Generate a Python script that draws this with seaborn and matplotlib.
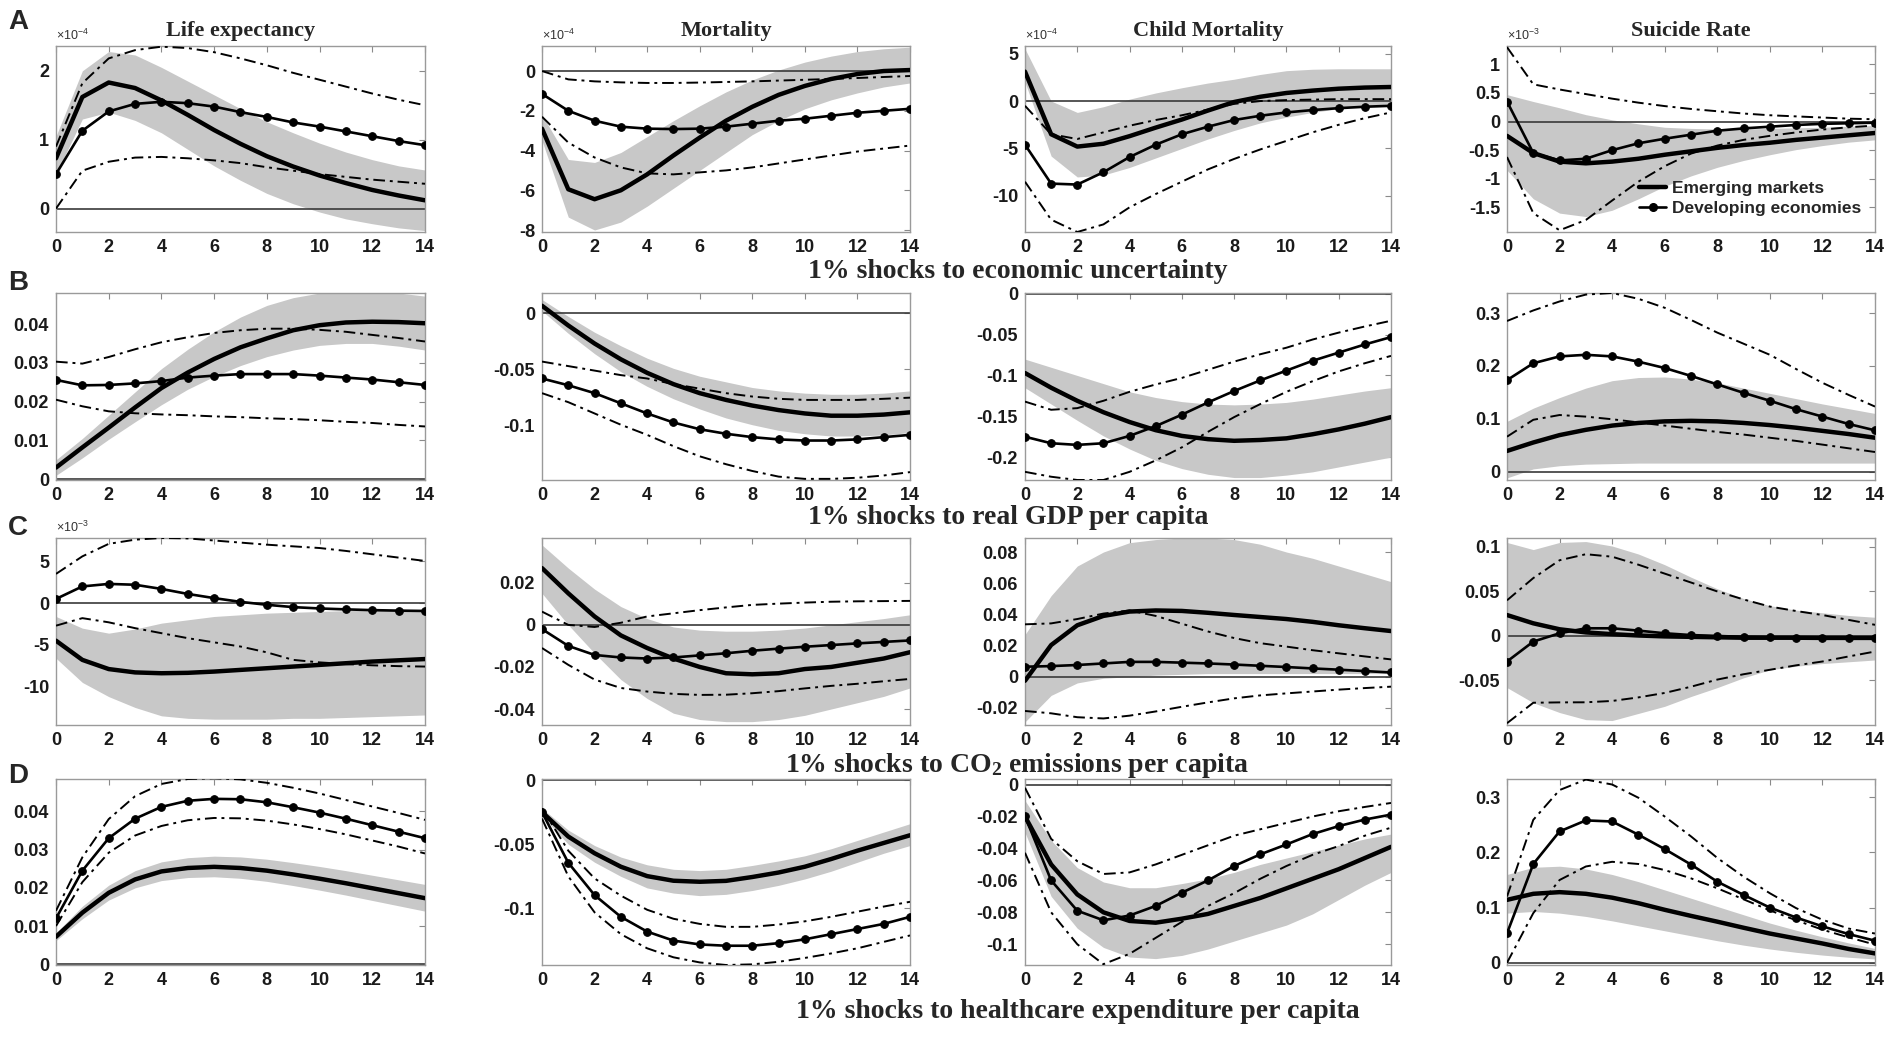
import matplotlib
matplotlib.use("Agg")
import matplotlib.pyplot as plt
from matplotlib.lines import Line2D
import seaborn as sns

horizon = list(range(15))

col_titles = ["Life expectancy", "Mortality", "Child Mortality", "Suicide Rate"]
row_letters = ["A", "B", "C", "D"]
shock_titles = ["1% shocks to economic uncertainty",
                "1% shocks to real GDP per capita",
                "1% shocks to CO$_2$ emissions per capita",
                "1% shocks to healthcare expenditure per capita"]
legend_labels = ["Emerging markets", "Developing economies"]

# A: economic uncertainty (A1-A3 in 1e-4, A4 in 1e-3)
a1_em = [0.73, 1.62, 1.83, 1.75, 1.57, 1.36, 1.14, 0.94, 0.76, 0.61, 0.48, 0.37, 0.27, 0.19, 0.12]
a1_em_hi = [1.05, 2.0, 2.28, 2.23, 2.05, 1.85, 1.65, 1.45, 1.26, 1.1, 0.95, 0.82, 0.71, 0.62, 0.56]
a1_em_lo = [0.5, 1.3, 1.4, 1.28, 1.1, 0.86, 0.62, 0.41, 0.22, 0.07, -0.05, -0.15, -0.22, -0.28, -0.32]
a1_de = [0.5, 1.13, 1.41, 1.52, 1.55, 1.53, 1.48, 1.4, 1.33, 1.25, 1.19, 1.12, 1.05, 0.98, 0.92]
a1_de_hi = [0.9, 1.82, 2.18, 2.3, 2.35, 2.33, 2.27, 2.18, 2.08, 1.97, 1.87, 1.77, 1.67, 1.58, 1.5]
a1_de_lo = [0.0, 0.55, 0.68, 0.74, 0.75, 0.73, 0.7, 0.66, 0.6, 0.55, 0.5, 0.46, 0.42, 0.39, 0.36]

a2_em = [-2.9, -5.95, -6.45, -6.0, -5.2, -4.25, -3.35, -2.5, -1.8, -1.2, -0.75, -0.4, -0.15, 0.0, 0.05]
a2_em_hi = [-2.2, -4.45, -4.6, -4.1, -3.3, -2.5, -1.75, -1.05, -0.45, 0.05, 0.45, 0.75, 0.98, 1.12, 1.2]
a2_em_lo = [-3.5, -7.35, -8.0, -7.6, -6.8, -5.9, -5.0, -4.1, -3.2, -2.5, -1.9, -1.45, -1.1, -0.8, -0.6]
a2_de = [-1.15, -2.0, -2.5, -2.8, -2.9, -2.92, -2.9, -2.8, -2.65, -2.5, -2.4, -2.25, -2.1, -2.0, -1.9]
a2_de_hi = [0.0, -0.42, -0.52, -0.57, -0.6, -0.6, -0.58, -0.55, -0.52, -0.48, -0.44, -0.4, -0.35, -0.3, -0.25]
a2_de_lo = [-2.3, -3.6, -4.35, -4.85, -5.15, -5.2, -5.1, -5.0, -4.85, -4.65, -4.45, -4.25, -4.05, -3.9, -3.75]

a3_em = [3.1, -3.5, -4.8, -4.5, -3.7, -2.8, -1.95, -1.0, -0.1, 0.45, 0.85, 1.1, 1.3, 1.42, 1.48]
a3_em_hi = [5.5, 0.0, -1.2, -0.6, 0.2, 0.85, 1.4, 1.9, 2.3, 2.8, 3.2, 3.35, 3.4, 3.4, 3.4]
a3_em_lo = [2.0, -5.8, -8.0, -7.8, -7.0, -6.0, -5.0, -4.0, -3.1, -2.3, -1.7, -1.2, -0.8, -0.5, -0.3]
a3_de = [-4.6, -8.7, -8.8, -7.5, -5.9, -4.6, -3.5, -2.7, -2.0, -1.55, -1.2, -0.95, -0.75, -0.6, -0.5]
a3_de_hi = [-0.5, -3.5, -4.0, -3.3, -2.6, -2.0, -1.5, -0.9, -0.3, 0.0, 0.1, 0.15, 0.2, 0.2, 0.2]
a3_de_lo = [-8.5, -12.5, -13.8, -13.0, -11.2, -9.8, -8.5, -7.2, -6.1, -5.1, -4.2, -3.3, -2.5, -1.8, -1.2]

a4_em = [-0.25, -0.55, -0.7, -0.73, -0.7, -0.65, -0.58, -0.52, -0.46, -0.41, -0.37, -0.32, -0.28, -0.24, -0.2]
a4_em_hi = [0.47, 0.35, 0.24, 0.12, 0.03, -0.04, -0.1, -0.12, -0.13, -0.13, -0.12, -0.11, -0.1, -0.08, -0.07]
a4_em_lo = [-0.85, -1.35, -1.6, -1.66, -1.55, -1.35, -1.13, -0.95, -0.8, -0.68, -0.58, -0.49, -0.42, -0.36, -0.32]
a4_de = [0.35, -0.55, -0.68, -0.65, -0.5, -0.38, -0.3, -0.23, -0.16, -0.12, -0.09, -0.06, -0.04, -0.03, -0.02]
a4_de_hi = [1.3, 0.65, 0.56, 0.48, 0.4, 0.33, 0.27, 0.22, 0.18, 0.14, 0.11, 0.09, 0.07, 0.05, 0.04]
a4_de_lo = [-0.62, -1.6, -1.9, -1.72, -1.38, -1.05, -0.78, -0.56, -0.42, -0.32, -0.25, -0.19, -0.14, -0.1, -0.07]

# B: real GDP per capita
b1_em = [0.003, 0.0082, 0.0133, 0.0185, 0.0235, 0.0275, 0.031, 0.034, 0.0363, 0.0384, 0.0397, 0.0404, 0.0406, 0.0405, 0.0402]
b1_em_hi = [0.005, 0.0105, 0.0165, 0.0225, 0.0285, 0.0335, 0.038, 0.0418, 0.0448, 0.0468, 0.048, 0.0485, 0.0485, 0.048, 0.0472]
b1_em_lo = [0.001, 0.0055, 0.0103, 0.0148, 0.0192, 0.0232, 0.0265, 0.0293, 0.0316, 0.0333, 0.0345, 0.035, 0.035, 0.0343, 0.0333]
b1_de = [0.0256, 0.0242, 0.0243, 0.0247, 0.0253, 0.0262, 0.0267, 0.0271, 0.0271, 0.0271, 0.0267, 0.0262, 0.0257, 0.025, 0.0243]
b1_de_hi = [0.0303, 0.0298, 0.0315, 0.0335, 0.0353, 0.0366, 0.0377, 0.0384, 0.0388, 0.0388, 0.0385, 0.038, 0.0372, 0.0364, 0.0355]
b1_de_lo = [0.0205, 0.0188, 0.0175, 0.017, 0.0167, 0.0165, 0.0162, 0.016, 0.0157, 0.0155, 0.0152, 0.0148, 0.0145, 0.014, 0.0136]

b2_em = [0.0065, -0.011, -0.027, -0.041, -0.053, -0.063, -0.071, -0.077, -0.082, -0.086, -0.089, -0.091, -0.091, -0.09, -0.088]
b2_em_hi = [0.012, -0.003, -0.017, -0.029, -0.04, -0.049, -0.056, -0.061, -0.066, -0.069, -0.071, -0.072, -0.072, -0.071, -0.069]
b2_em_lo = [0.002, -0.018, -0.036, -0.052, -0.065, -0.076, -0.085, -0.093, -0.099, -0.104, -0.107, -0.109, -0.109, -0.108, -0.106]
b2_de = [-0.058, -0.064, -0.071, -0.08, -0.089, -0.097, -0.103, -0.107, -0.11, -0.112, -0.113, -0.113, -0.112, -0.11, -0.108]
b2_de_hi = [-0.043, -0.047, -0.051, -0.055, -0.058, -0.063, -0.067, -0.071, -0.074, -0.076, -0.077, -0.077, -0.077, -0.076, -0.075]
b2_de_lo = [-0.071, -0.079, -0.089, -0.099, -0.108, -0.118, -0.127, -0.134, -0.14, -0.145, -0.147, -0.147, -0.146, -0.144, -0.141]

b3_em = [-0.097, -0.115, -0.131, -0.145, -0.157, -0.167, -0.174, -0.178, -0.18, -0.179, -0.177, -0.172, -0.166, -0.159, -0.151]
b3_em_hi = [-0.08, -0.09, -0.1, -0.11, -0.12, -0.127, -0.132, -0.135, -0.136, -0.135, -0.133, -0.129, -0.124, -0.119, -0.115]
b3_em_lo = [-0.115, -0.135, -0.155, -0.174, -0.19, -0.204, -0.214, -0.221, -0.225, -0.225, -0.222, -0.218, -0.212, -0.206, -0.2]
b3_de = [-0.175, -0.183, -0.185, -0.183, -0.174, -0.162, -0.148, -0.133, -0.119, -0.106, -0.094, -0.082, -0.072, -0.062, -0.053]
b3_de_hi = [-0.132, -0.142, -0.14, -0.131, -0.12, -0.111, -0.103, -0.093, -0.083, -0.074, -0.066, -0.056, -0.0475, -0.04, -0.033]
b3_de_lo = [-0.218, -0.224, -0.228, -0.228, -0.218, -0.204, -0.188, -0.169, -0.151, -0.135, -0.12, -0.107, -0.095, -0.085, -0.076]

b4_em = [0.039, 0.055, 0.069, 0.079, 0.087, 0.092, 0.095, 0.096, 0.095, 0.092, 0.088, 0.083, 0.077, 0.071, 0.064]
b4_em_hi = [0.095, 0.12, 0.14, 0.158, 0.172, 0.178, 0.179, 0.175, 0.168, 0.158, 0.148, 0.138, 0.128, 0.119, 0.11]
b4_em_lo = [-0.012, 0.005, 0.011, 0.014, 0.015, 0.016, 0.016, 0.016, 0.016, 0.016, 0.016, 0.016, 0.016, 0.016, 0.016]
b4_de = [0.173, 0.205, 0.218, 0.221, 0.218, 0.208, 0.196, 0.181, 0.165, 0.149, 0.134, 0.118, 0.104, 0.09, 0.078]
b4_de_hi = [0.285, 0.305, 0.322, 0.335, 0.338, 0.327, 0.31, 0.287, 0.263, 0.242, 0.221, 0.194, 0.168, 0.145, 0.123]
b4_de_lo = [0.066, 0.098, 0.107, 0.104, 0.099, 0.093, 0.087, 0.081, 0.075, 0.07, 0.064, 0.058, 0.051, 0.044, 0.037]

# C: CO2 emissions per capita (C1 in 1e-3)
c1_em = [-4.5, -6.8, -7.9, -8.3, -8.4, -8.35, -8.2, -8.0, -7.8, -7.6, -7.4, -7.2, -7.0, -6.85, -6.7]
c1_em_hi = [-1.6, -3.0, -3.6, -3.1, -2.4, -2.0, -1.6, -1.4, -1.2, -1.1, -1.0, -0.9, -0.85, -0.8, -0.8]
c1_em_lo = [-6.6, -9.5, -11.2, -12.5, -13.5, -13.8, -13.9, -13.9, -13.9, -13.8, -13.8, -13.7, -13.6, -13.5, -13.4]
c1_de = [0.5, 2.0, 2.3, 2.2, 1.7, 1.1, 0.6, 0.15, -0.2, -0.48, -0.64, -0.75, -0.84, -0.9, -0.94]
c1_de_hi = [3.5, 5.6, 7.1, 7.6, 7.8, 7.75, 7.5, 7.25, 7.0, 6.8, 6.6, 6.25, 5.85, 5.45, 5.05]
c1_de_lo = [-2.7, -1.8, -2.3, -3.0, -3.6, -4.2, -4.7, -5.2, -5.9, -6.8, -7.1, -7.3, -7.45, -7.55, -7.6]

c2_em = [0.027, 0.015, 0.004, -0.005, -0.011, -0.016, -0.02, -0.023, -0.0235, -0.023, -0.021, -0.02, -0.018, -0.016, -0.013]
c2_em_hi = [0.038, 0.027, 0.017, 0.0087, 0.003, -0.001, -0.0025, -0.003, -0.003, -0.0025, -0.0015, 0.0, 0.0015, 0.003, 0.0048]
c2_em_lo = [0.015, 0.0, -0.0135, -0.026, -0.035, -0.042, -0.045, -0.046, -0.046, -0.045, -0.043, -0.04, -0.037, -0.034, -0.03]
c2_de = [-0.002, -0.01, -0.0143, -0.0155, -0.016, -0.0155, -0.0145, -0.0135, -0.0123, -0.0113, -0.0104, -0.0096, -0.0088, -0.0081, -0.0074]
c2_de_hi = [0.0063, 0.0, -0.001, 0.001, 0.004, 0.0055, 0.007, 0.0083, 0.0095, 0.0101, 0.0106, 0.011, 0.0112, 0.0113, 0.0114]
c2_de_lo = [-0.011, -0.019, -0.026, -0.03, -0.0317, -0.0328, -0.0333, -0.0332, -0.0325, -0.0315, -0.0302, -0.029, -0.028, -0.0268, -0.0257]

c3_em = [-0.0026, 0.0203, 0.033, 0.039, 0.0418, 0.0425, 0.0422, 0.041, 0.0396, 0.0383, 0.037, 0.0352, 0.033, 0.0311, 0.0293]
c3_em_hi = [0.027, 0.052, 0.071, 0.08, 0.086, 0.088, 0.089, 0.089, 0.088, 0.085, 0.08, 0.076, 0.071, 0.066, 0.061]
c3_em_lo = [-0.029, -0.012, -0.004, -0.001, 0.0, 0.001, 0.0015, 0.002, 0.002, 0.002, 0.002, 0.002, 0.002, 0.002, 0.002]
c3_de = [0.0064, 0.0068, 0.0075, 0.0085, 0.0095, 0.0095, 0.009, 0.0085, 0.0078, 0.007, 0.0062, 0.0053, 0.0045, 0.0036, 0.0027]
c3_de_hi = [0.0336, 0.0342, 0.037, 0.0405, 0.0425, 0.039, 0.034, 0.029, 0.0248, 0.0215, 0.0193, 0.017, 0.015, 0.013, 0.0111]
c3_de_lo = [-0.022, -0.0235, -0.026, -0.0268, -0.025, -0.0223, -0.0193, -0.0165, -0.0139, -0.012, -0.0107, -0.0095, -0.0083, -0.0073, -0.0064]

c4_em = [0.0235, 0.0142, 0.0075, 0.004, 0.002, 0.0005, -0.0005, -0.001, -0.0015, -0.002, -0.002, -0.002, -0.0022, -0.0022, -0.0022]
c4_em_hi = [0.105, 0.097, 0.105, 0.106, 0.101, 0.092, 0.08, 0.066, 0.053, 0.042, 0.034, 0.029, 0.026, 0.023, 0.021]
c4_em_lo = [-0.058, -0.075, -0.086, -0.094, -0.095, -0.087, -0.079, -0.068, -0.058, -0.047, -0.038, -0.034, -0.031, -0.029, -0.027]
c4_de = [-0.0287, -0.0063, 0.003, 0.0086, 0.0086, 0.006, 0.003, 0.001, 0.0, -0.001, -0.0015, -0.002, -0.002, -0.002, -0.002]
c4_de_hi = [0.04, 0.065, 0.085, 0.0918, 0.089, 0.08, 0.07, 0.06, 0.05, 0.041, 0.033, 0.028, 0.0235, 0.018, 0.0125]
c4_de_lo = [-0.098, -0.075, -0.0746, -0.0745, -0.073, -0.069, -0.064, -0.057, -0.049, -0.043, -0.038, -0.033, -0.0287, -0.023, -0.0175]

# D: healthcare expenditure per capita
d1_em = [0.0072, 0.0135, 0.0187, 0.0222, 0.0243, 0.0252, 0.0255, 0.0252, 0.0245, 0.0235, 0.0224, 0.0212, 0.0199, 0.0186, 0.0173]
d1_em_hi = [0.0082, 0.0152, 0.0207, 0.0245, 0.0268, 0.0279, 0.0283, 0.0281, 0.0275, 0.0266, 0.0256, 0.0245, 0.0233, 0.0221, 0.0209]
d1_em_lo = [0.0062, 0.0119, 0.0168, 0.02, 0.0219, 0.0227, 0.0229, 0.0225, 0.0217, 0.0206, 0.0194, 0.0181, 0.0167, 0.0153, 0.0139]
d1_de = [0.012, 0.0245, 0.033, 0.0381, 0.0412, 0.0428, 0.0433, 0.0432, 0.0424, 0.0411, 0.0397, 0.0381, 0.0364, 0.0347, 0.033]
d1_de_hi = [0.014, 0.028, 0.038, 0.044, 0.0472, 0.0485, 0.0487, 0.0484, 0.0475, 0.0462, 0.0447, 0.043, 0.0413, 0.0396, 0.0378]
d1_de_lo = [0.01, 0.0215, 0.0292, 0.0337, 0.0362, 0.0377, 0.0383, 0.0382, 0.0376, 0.0366, 0.0354, 0.034, 0.0324, 0.0308, 0.029]

d2_em = [-0.025, -0.044, -0.057, -0.0675, -0.0748, -0.0784, -0.0792, -0.0785, -0.0755, -0.072, -0.0675, -0.0615, -0.055, -0.049, -0.043]
d2_em_hi = [-0.022, -0.039, -0.051, -0.06, -0.066, -0.0695, -0.0705, -0.0695, -0.0665, -0.063, -0.059, -0.0535, -0.047, -0.0405, -0.034]
d2_em_lo = [-0.028, -0.05, -0.064, -0.075, -0.084, -0.088, -0.09, -0.089, -0.086, -0.082, -0.077, -0.071, -0.064, -0.057, -0.051]
d2_de = [-0.025, -0.0644, -0.0896, -0.1065, -0.118, -0.125, -0.128, -0.129, -0.129, -0.127, -0.124, -0.12, -0.116, -0.112, -0.1065]
d2_de_hi = [-0.022, -0.055, -0.0766, -0.09, -0.101, -0.108, -0.112, -0.1143, -0.1143, -0.1125, -0.11, -0.1065, -0.1025, -0.0985, -0.0948]
d2_de_lo = [-0.03, -0.075, -0.103, -0.12, -0.131, -0.138, -0.142, -0.144, -0.1435, -0.1415, -0.1385, -0.135, -0.131, -0.126, -0.121]

d3_em = [-0.02, -0.05, -0.0688, -0.08, -0.0854, -0.0865, -0.084, -0.081, -0.076, -0.071, -0.065, -0.059, -0.053, -0.046, -0.039]
d3_em_hi = [-0.01, -0.035, -0.052, -0.061, -0.0646, -0.0646, -0.062, -0.059, -0.055, -0.05, -0.046, -0.042, -0.038, -0.034, -0.031]
d3_em_lo = [-0.03, -0.07, -0.09, -0.102, -0.108, -0.109, -0.107, -0.103, -0.098, -0.093, -0.088, -0.081, -0.072, -0.063, -0.055]
d3_de = [-0.0198, -0.06, -0.079, -0.085, -0.082, -0.076, -0.0677, -0.06, -0.051, -0.0437, -0.0375, -0.031, -0.026, -0.0219, -0.0188]
d3_de_hi = [-0.002, -0.034, -0.048, -0.056, -0.055, -0.05, -0.044, -0.038, -0.032, -0.028, -0.024, -0.02, -0.0167, -0.014, -0.0115]
d3_de_lo = [-0.0427, -0.08, -0.1, -0.1125, -0.106, -0.096, -0.086, -0.076, -0.068, -0.059, -0.051, -0.044, -0.0385, -0.032, -0.027]

d4_em = [0.114, 0.125, 0.128, 0.125, 0.118, 0.108, 0.096, 0.085, 0.0745, 0.0635, 0.053, 0.044, 0.035, 0.025, 0.017]
d4_em_hi = [0.16, 0.173, 0.175, 0.17, 0.16, 0.147, 0.132, 0.117, 0.102, 0.087, 0.072, 0.059, 0.047, 0.036, 0.026]
d4_em_lo = [0.09, 0.093, 0.09, 0.084, 0.076, 0.067, 0.058, 0.049, 0.04, 0.032, 0.025, 0.019, 0.014, 0.01, 0.007]
d4_de = [0.0533, 0.179, 0.238, 0.258, 0.256, 0.232, 0.206, 0.178, 0.147, 0.123, 0.1, 0.082, 0.066, 0.052, 0.04]
d4_de_hi = [0.12, 0.259, 0.313, 0.332, 0.323, 0.299, 0.265, 0.229, 0.19, 0.156, 0.126, 0.099, 0.078, 0.062, 0.053]
d4_de_lo = [0.0, 0.09, 0.15, 0.1745, 0.183, 0.179, 0.168, 0.153, 0.135, 0.115, 0.095, 0.077, 0.06, 0.046, 0.033]

# y ticks per panel, row by row
yticks = [
    [[0, 1, 2], [-8, -6, -4, -2, 0], [-10, -5, 0, 5], [-1.5, -1, -0.5, 0, 0.5, 1]],
    [[0, 0.01, 0.02, 0.03, 0.04], [-0.1, -0.05, 0], [-0.2, -0.15, -0.1, -0.05, 0], [0, 0.1, 0.2, 0.3]],
    [[-10, -5, 0, 5], [-0.04, -0.02, 0, 0.02], [-0.02, 0, 0.02, 0.04, 0.06, 0.08], [-0.05, 0, 0.05, 0.1]],
    [[0, 0.01, 0.02, 0.03, 0.04], [-0.1, -0.05, 0], [-0.1, -0.08, -0.06, -0.04, -0.02, 0], [0, 0.1, 0.2, 0.3]],
]
ylims = [
    [(-0.34, 2.36), (-8.1, 1.26), (-13.8, 5.8), (-1.93, 1.32)],
    [(-0.0002, 0.048), (-0.148, 0.0178), (-0.228, 0.001), (-0.016, 0.338)],
    [(-14.6, 7.8), (-0.0476, 0.0413), (-0.031, 0.089), (-0.1, 0.11)],
    [(-0.0002, 0.0485), (-0.144, 0.0008), (-0.113, 0.0035), (-0.004, 0.333)],
]
exponents = [[-4, -4, -4, -3], [None] * 4, [-3, None, None, None], [None] * 4]

series = {
    (0, 0): (a1_em, a1_em_lo, a1_em_hi, a1_de, a1_de_lo, a1_de_hi),
    (0, 1): (a2_em, a2_em_lo, a2_em_hi, a2_de, a2_de_lo, a2_de_hi),
    (0, 2): (a3_em, a3_em_lo, a3_em_hi, a3_de, a3_de_lo, a3_de_hi),
    (0, 3): (a4_em, a4_em_lo, a4_em_hi, a4_de, a4_de_lo, a4_de_hi),
    (1, 0): (b1_em, b1_em_lo, b1_em_hi, b1_de, b1_de_lo, b1_de_hi),
    (1, 1): (b2_em, b2_em_lo, b2_em_hi, b2_de, b2_de_lo, b2_de_hi),
    (1, 2): (b3_em, b3_em_lo, b3_em_hi, b3_de, b3_de_lo, b3_de_hi),
    (1, 3): (b4_em, b4_em_lo, b4_em_hi, b4_de, b4_de_lo, b4_de_hi),
    (2, 0): (c1_em, c1_em_lo, c1_em_hi, c1_de, c1_de_lo, c1_de_hi),
    (2, 1): (c2_em, c2_em_lo, c2_em_hi, c2_de, c2_de_lo, c2_de_hi),
    (2, 2): (c3_em, c3_em_lo, c3_em_hi, c3_de, c3_de_lo, c3_de_hi),
    (2, 3): (c4_em, c4_em_lo, c4_em_hi, c4_de, c4_de_lo, c4_de_hi),
    (3, 0): (d1_em, d1_em_lo, d1_em_hi, d1_de, d1_de_lo, d1_de_hi),
    (3, 1): (d2_em, d2_em_lo, d2_em_hi, d2_de, d2_de_lo, d2_de_hi),
    (3, 2): (d3_em, d3_em_lo, d3_em_hi, d3_de, d3_de_lo, d3_de_hi),
    (3, 3): (d4_em, d4_em_lo, d4_em_hi, d4_de, d4_de_lo, d4_de_hi),
}

sns.set_theme(style="white")
plt.rcParams["font.family"] = ["Liberation Sans Narrow", "Liberation Sans", "DejaVu Sans"]
plt.rcParams["font.weight"] = "bold"
plt.rcParams["mathtext.default"] = "regular"

W, H = 1902, 1038
fig = plt.figure(figsize=(W / 100, H / 100), dpi=100)

# panel boxes in pixels
col_px = [(56, 425), (542, 910), (1025, 1391), (1507, 1875)]
row_px = [(46, 232), (293, 480), (538, 725), (779, 965)]
band_grey = "#c8c8c8"
serif = ["Liberation Serif", "DejaVu Serif"]
dashdot = (0, (6, 2.5, 1.5, 2.5))

for r in range(4):
    for c in range(4):
        x0, x1 = col_px[c]
        y0, y1 = row_px[r]
        ax = fig.add_axes([x0 / W, 1 - y1 / H, (x1 - x0) / W, (y1 - y0) / H])
        em, em_lo, em_hi, de, de_lo, de_hi = series[(r, c)]

        ax.fill_between(horizon, em_lo, em_hi, color=band_grey, lw=0, zorder=1)
        ax.axhline(0, color="#3a3a3a", lw=1.2, zorder=2)
        sns.lineplot(x=horizon, y=de_hi, ax=ax, color="black", lw=1.4,
                     linestyle=dashdot, legend=False, zorder=3)
        sns.lineplot(x=horizon, y=de_lo, ax=ax, color="black", lw=1.4,
                     linestyle=dashdot, legend=False, zorder=3)
        sns.lineplot(x=horizon, y=em, ax=ax, color="black", lw=3.2,
                     legend=False, zorder=4)
        sns.lineplot(x=horizon, y=de, ax=ax, color="black", lw=1.9, marker="o",
                     markersize=5.5, markeredgecolor="black", legend=False, zorder=5)

        ax.set_xlim(0, 14)
        ax.set_ylim(*ylims[r][c])
        ax.set_xticks(range(0, 15, 2))
        ax.set_xticklabels([str(v) for v in range(0, 15, 2)])
        ax.set_yticks(yticks[r][c])
        ax.set_yticklabels([f"{v:g}" for v in yticks[r][c]])
        ax.set_xlabel("")
        ax.set_ylabel("")
        ax.tick_params(direction="in", top=True, right=True, length=4, width=0.8,
                       color="#8a8a8a", labelsize=13, pad=5, labelcolor="#1a1a1a")
        for sp in ax.spines.values():
            sp.set_color("#9a9a9a")
            sp.set_linewidth(1.0)

        if exponents[r][c] is not None:
            ax.text(0.0, 1.015, r"$\times$10$^{%d}$" % exponents[r][c], transform=ax.transAxes,
                    ha="left", va="bottom", fontsize=9, fontweight="normal", color="#333333")

        if r == 0:
            fig.text((x0 + x1) / 2 / W, 1 - 31 / H, col_titles[c], ha="center", va="center",
                     fontsize=16, fontweight="bold", family=serif)

        if r == 0 and c == 3:
            handles = [Line2D([], [], color="black", lw=3.2),
                       Line2D([], [], color="black", lw=1.9, marker="o", markersize=5.5)]
            ax.legend(handles, legend_labels, loc="lower right", bbox_to_anchor=(0.99, 0.03),
                      frameon=False, fontsize=12.5, handlelength=1.6, handletextpad=0.3,
                      labelspacing=0.3, borderaxespad=0.2)

letter_y = [22, 283, 528, 776]
for r in range(4):
    fig.text(8 / W, 1 - letter_y[r] / H, row_letters[r], ha="left", va="center",
             fontsize=20, fontweight="bold", family=["Liberation Sans", "DejaVu Sans"])

shock_pos = [(808, 272), (808, 518), (785, 766), (796, 1011)]
for r in range(4):
    sx, sy = shock_pos[r]
    fig.text(sx / W, 1 - sy / H, shock_titles[r], ha="left", va="center",
             fontsize=20, fontweight="bold", family=serif)

fig.savefig("out.png", dpi=100, facecolor="white")
